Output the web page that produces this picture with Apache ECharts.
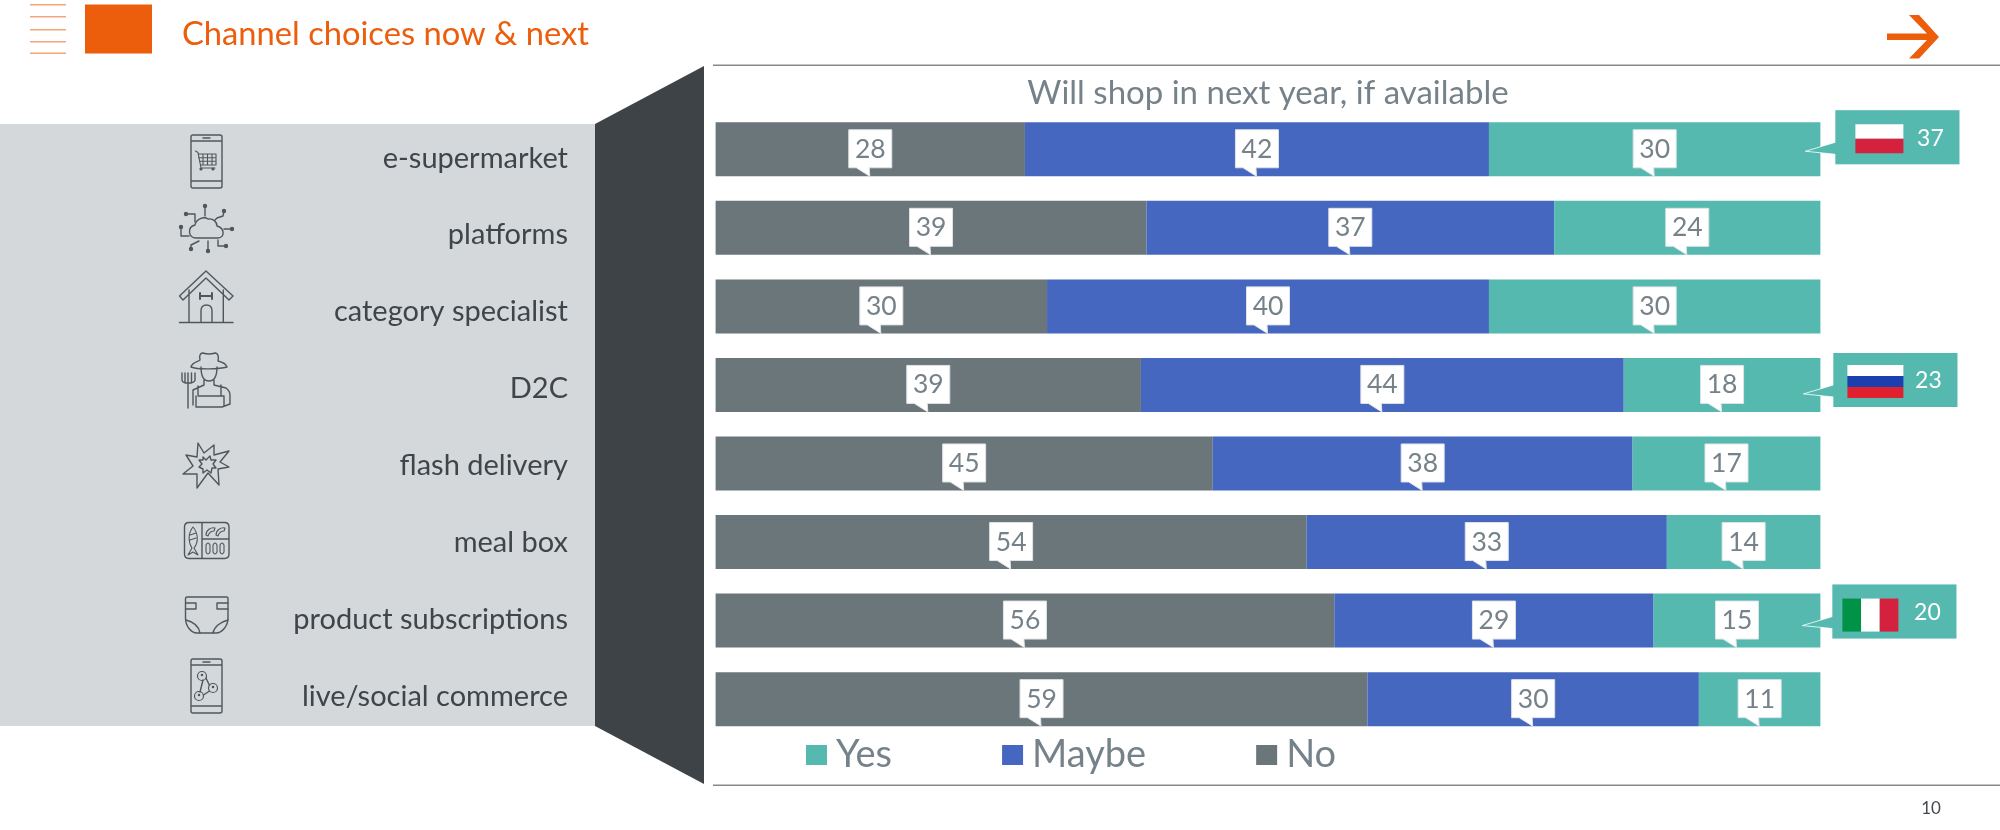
<!DOCTYPE html>
<html><head><meta charset="utf-8">
<style>html,body{margin:0;padding:0;background:#fff}#c{width:2000px;height:830px}</style>
<script src="https://cdn.jsdelivr.net/npm/echarts@6/dist/echarts.min.js"></script>
</head><body><div id="c"></div>
<script>
var categories = ['e-supermarket','platforms','category specialist','D2C','flash delivery','meal box','product subscriptions','live/social commerce'];
var noValues    = [28.0, 39.0, 30.0, 38.5, 45.0, 53.5, 56.0, 59.0];
var maybeValues = [42.0, 36.9, 40.0, 43.7, 38.0, 32.6, 28.9, 30.0];
var yesValues   = [30.0, 24.1, 30.0, 17.8, 17.0, 13.9, 15.1, 11.0];
var seriesNames = ['Yes','Maybe','No'];
var titleText = 'Channel choices now & next';
var chartHeading = 'Will shop in next year, if available';
var pageNumber = '10';
var flagCategories = [0, 3, 6];
var flagCountries = ['PL','RU','IT'];
var flagValues = [37, 23, 20];

var C = {no:'#6b767b', maybe:'#4567c0', yes:'#55b9b0', orange:'#ec5d0c', text:'#76828a', label:'#3f4549', icon:'#50575b'};
var FONT = 'Lato, sans-serif';

// callouts: [start, end, categoryIndex, shown value]
function calloutData(){
  var out = [];
  categories.forEach(function(_, i){
    var a = noValues[i], b = a + maybeValues[i], c = b + yesValues[i];
    out.push([0, a, i, Math.round(noValues[i])]);
    out.push([a, b, i, Math.round(maybeValues[i])]);
    out.push([b, c, i, Math.round(yesValues[i])]);
  });
  return out;
}
function renderCallout(params, api){
  var p = api.coord([(api.value(0) + api.value(1)) / 2, api.value(2)]);
  var cx = p[0], cy = p[1];
  var L = cx - 21.5, R = cx + 21.5, T = cy - 19.5, B = cy + 18.5;
  return {type:'group', children:[
    {type:'polygon', shape:{points:[[L,T],[R,T],[R,B],[cx-1,B],[cx-0.5,cy+27],[cx-14,B],[L,B]]},
     style:{fill:'#fff', stroke:'#dfe3e6', lineWidth:1}},
    {type:'text', style:{text:String(api.value(3)), x:cx, y:cy, align:'center', verticalAlign:'middle',
      font:'26.5px Lato, sans-serif', fill:C.text}}
  ]};
}
var flagStyle = {
  PL:{dx:20, dy:14, w:48, h:29, bands:'h', colors:['#ffffff','#d4213d']},
  RU:{dx:14, dy:12, w:56, h:33, bands:'h', colors:['#ffffff','#1c3fb0','#e0202e']},
  IT:{dx:10, dy:14, w:56, h:33, bands:'v', colors:['#009246','#ffffff','#d4213d']}
};
var flagBoxOffset = {PL:[15,-39], RU:[13,-32], IT:[12,-36]};
function renderFlag(params, api){
  var country = flagCountries[api.value(0)];
  var p = api.coord([100, api.value(1)]);
  var o = flagBoxOffset[country], f = flagStyle[country];
  var x = p[0] + o[0], y = p[1] + o[1], tipY = y + 41;
  var kids = [{type:'polygon', shape:{points:[[x,y],[x+124,y],[x+124,y+54],[x,y+54],[x,y+44],[x-30,tipY],[x,y+32]]},
    style:{fill:C.yes, stroke:'#fff', lineWidth:0.8}}];
  kids.push({type:'rect', shape:{x:x,y:y,width:124,height:54}, style:{fill:C.yes}});
  f.colors.forEach(function(col, k){
    var n = f.colors.length;
    var r = f.bands === 'h' ? {x:x+f.dx, y:y+f.dy+k*f.h/n, width:f.w, height:f.h/n}
                            : {x:x+f.dx+k*f.w/n, y:y+f.dy, width:f.w/n, height:f.h};
    kids.push({type:'rect', shape:r, style:{fill:col}});
  });
  kids.push({type:'text', style:{text:String(api.value(2)), x:x+95, y:y+28, align:'center', verticalAlign:'middle',
    font:'23px Lato, sans-serif', fill:'#fff'}});
  return {type:'group', children:kids};
}

// decorative page furniture
var shapeCount = 0;
function pathEl(d, style){
  var name = 'iconPath' + (shapeCount++);
  echarts.graphic.registerShape(name, echarts.graphic.extendPath(d, {}));
  return {type:name, z:-1, style:style};
}
function rect(x,y,w,h,fill,z){return {type:'rect',z:z||-5,shape:{x:x,y:y,width:w,height:h},style:{fill:fill}};}
function stroke(d,w){return pathEl(d,{fill:'none',stroke:C.icon,lineWidth:w||1.4,lineJoin:'round',lineCap:'round'});}
function solid(d){return pathEl(d,{fill:C.icon});}
function dot(x,y,r){r=r||2.2;return 'M'+(x-r)+' '+y+'A'+r+' '+r+' 0 1 0 '+(x+r)+' '+y+'A'+r+' '+r+' 0 1 0 '+(x-r)+' '+y+'Z';}

var icons = [
  // phone + cart
  stroke('M193 135H220Q222 135 222 137V186Q222 188 220 188H193Q191 188 191 186V137Q191 135 193 135ZM191 141H222M191 181H222M203 138H210'),
  stroke('M195.5 151L198 152.5L201 168H215M198.5 154H216V165H200.5M198.5 157.7H216M199.5 161.3H216M203 154V165M207.5 154V165M212 154V165',1.1),
  solid(dot(201,169,1.6)+dot(213,169,1.6)),
  // cloud
  stroke('M196 238C188 238 187 227 195 225C196 219 204 216 208 219C213 218 217 222 217 226C225 228 225 238 218 238Z'),
  stroke('M205 206V216M186 214H195V222M224 211L223 216L217 218L215 220M232 229H224M181 227V236H189M191 249V245L199 241M208 251V241M226 246H218V240'),
  solid(dot(205,206)+dot(186,214)+dot(224,211)+dot(232,229)+dot(181,227)+dot(191,249)+dot(208,251)+dot(226,246)),
  // house
  stroke('M179.5 322.5H233M189 290V322.5M223.3 290V322.5M179.5 296L206 271L233 296L229 300L206 278L183 300ZM201 322.5V311Q201 305 206.5 305Q212 305 212 311V322.5'),
  stroke('M200 296H212M200 293V299M212 293V299',2),
  // farmer
  stroke('M191 367C192 362 198 362 200 360C199 356 200 353 203 353Q209 355 215 353C218 353 219 357 218 361C222 362 226 364 227 367C220 369 198 370 191 367Z'),
  stroke('M201 367C201 376 204 381 209 381C214 381 217 376 217 367M204 380V385L193 390V405M214 380V385L226 388Q230 391 230 395V404L222 407H196M198 386V395M221 385V395M196 396V407M224 396V406M198 396H224'),
  stroke('M188 373V408M182 373V380Q182 383 188 383Q195 383 195 380V373M185 373V383M191.5 373V383'),
  // flash star
  stroke('M198 443L204 453L214 445L214 455L229 451L220 462L229 467L218 469L219 485L208 473L197 488L197 474L183 474L193 466L186 455L197 457Z'),
  stroke('M203 457L206 460L210 456L211 460L216 460L213 464L216 468L212 468L211 473L207 470L203 473L203 469L199 467L202 464L199 460L203 460Z'),
  // meal box
  stroke('M189 522.5H224.5Q229 522.5 229 527V554Q229 558.5 224.5 558.5H189Q184.5 558.5 184.5 554V527Q184.5 522.5 189 522.5ZM202 522.5V558.5M202 539H229'),
  stroke('M193 527C188 533 188 542 192 548L188 555L193 552L198 555L194 548C199 542 198 533 193 527ZM190 535L196 533M190 540L196 538',1.1),
  stroke('M206 535C206 530 211 527 215 528L214 531C211 531 209 533 208 536ZM216 535C216 530 221 527 225 528L224 531C221 531 219 533 218 536Z',1.1),
  stroke('M206 545Q208 541 210 545V552Q208 556 206 552ZM213 545Q215 541 217 545V552Q215 556 213 552ZM220 545Q222 541 224 545V552Q222 556 220 552Z',1.1),
  // diaper
  stroke('M187 597H226.5Q228 597 228 599V618C228 626 222 633 216 633H197C191 633 185.5 626 185.5 618V599Q185.5 597 187 597Z'),
  stroke('M186 603H196V609H186M228 603H217V609H228M186 620C194 622 199 627 200 633M228 620C220 622 214 627 213 633'),
  // phone + network
  stroke('M193 659H220Q222 659 222 661V711Q222 713 220 713H193Q191 713 191 711V661Q191 659 193 659ZM191 665H222M191 706H222M203 662H210'),
  stroke('M203 680L200 692M206 678L209.5 685.5M203.5 695L209.5 691'),
  stroke(dot(202,676,4.5)+dot(213,688,4.5)+dot(199,696,4.5),1.2),
  solid(dot(202,675,1.3)+dot(213,687,1.3)+dot(199,695,1.3))
];

var furniture = [
  rect(0,124,595,602,'#d4d8db'),
  {type:'polygon',z:-4,shape:{points:[[595,124],[704,66],[704,784],[595,726]]},style:{fill:'#3d4347'}},
  rect(713,64.5,1287,1.5,'#85898c'),
  rect(713,784.5,1287,1.5,'#85898c'),
  rect(85,4.5,67,49,C.orange),
  rect(30,4,36,1.4,'#f3a67c'),rect(30,16,36,1.4,'#f3a67c'),rect(30,29,36,1.4,'#f3a67c'),rect(30,41,36,1.4,'#f3a67c'),rect(30,52.5,36,1.4,'#f3a67c'),
  {type:'polygon',z:-4,shape:{points:[[1939,37],[1919,15],[1909,15],[1927,33.5],[1887,33.5],[1887,40],[1927,40],[1909,58.5],[1919,58.5]]},style:{fill:C.orange}},
  {type:'text',z:-1,style:{text:pageNumber,x:1931,y:809,align:'center',verticalAlign:'middle',font:'17px Lato, sans-serif',fill:'#444a4e'}}
].concat(icons);

function bar(name, values, color){
  return {name:name,type:'bar',stack:'share',data:values,barWidth:54,itemStyle:{color:color},xAxisIndex:0,yAxisIndex:0,silent:true,animation:false};
}
var chart = echarts.init(document.getElementById('c'), null, {renderer:'canvas'});
chart.setOption({
  animation:false,
  backgroundColor:'#fff',
  title:[
    {text:titleText,left:182,top:18,padding:0,textStyle:{color:C.orange,fontFamily:FONT,fontWeight:'normal',fontSize:32.7}},
    {text:chartHeading,left:1268,top:77,padding:0,textAlign:'center',textStyle:{color:C.text,fontFamily:FONT,fontWeight:'normal',fontSize:33}}
  ],
  legend:{data:seriesNames,left:806,top:736,padding:0,itemWidth:21,itemHeight:20,itemGap:110,icon:'rect',selectedMode:false,
    textStyle:{color:C.text,fontFamily:FONT,fontSize:38,padding:[0,0,0,4]}},
  grid:[
    {left:715.6,top:110,width:1104.8,height:628.4},
    {left:576,top:119.8,width:10,height:615}
  ],
  xAxis:[
    {type:'value',min:0,max:100,show:false,gridIndex:0},
    {type:'value',min:0,max:1,show:false,gridIndex:1}
  ],
  yAxis:[
    {type:'category',data:categories,inverse:true,gridIndex:0,axisLine:{show:false},axisTick:{show:false},axisLabel:{show:false},splitLine:{show:false}},
    {type:'category',data:categories,inverse:true,gridIndex:1,axisLine:{show:false},axisTick:{show:false},splitLine:{show:false},
      axisLabel:{show:true,margin:8,interval:0,color:C.label,fontFamily:FONT,fontSize:29,align:'right'}}
  ],
  graphic:{elements:furniture},
  series:[
    bar('No',noValues,C.no),
    bar('Maybe',maybeValues,C.maybe),
    bar('Yes',yesValues,C.yes),
    {name:'labels',type:'custom',xAxisIndex:0,yAxisIndex:0,data:calloutData(),renderItem:renderCallout,z:5,silent:true,clip:false,
      encode:{x:[0,1],y:2}},
    {name:'flags',type:'custom',xAxisIndex:0,yAxisIndex:0,
      data:flagCategories.map(function(c,i){return [i,c,flagValues[i]];}),renderItem:renderFlag,z:6,silent:true,clip:false,
      encode:{y:1}}
  ]
});
</script></body></html>
